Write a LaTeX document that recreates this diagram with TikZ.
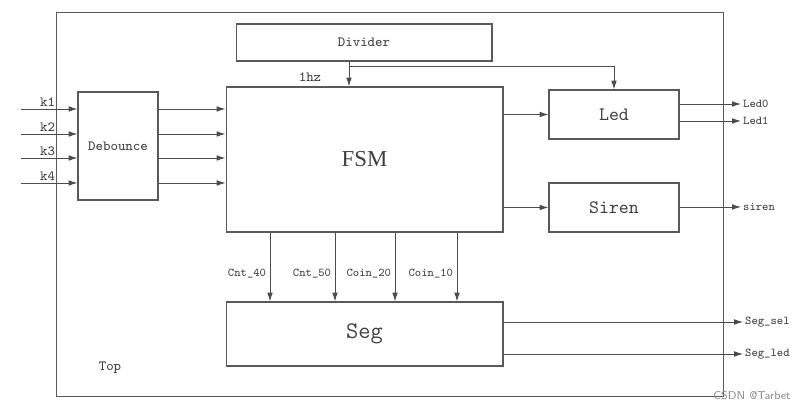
\documentclass[tikz,border=0pt]{standalone}
\usepackage{fontspec}
\setmainfont{Liberation Serif}
\usepackage{xcolor}
\usetikzlibrary{arrows.meta,positioning}

\begin{document}
\begin{tikzpicture}[x=0.02cm, y=-0.02cm,
		block/.style={rectangle, draw=black!65, line width=0.6pt, inner sep=0pt},
		arr/.style={draw=black!70, line width=0.5pt, -{Latex[length=5pt,width=3.2pt]}},
		lab/.style={font=\ttfamily\fontsize{6.8}{8}\selectfont, text=black!75, inner sep=1pt},
		smalltxt/.style={font=\ttfamily\fontsize{8}{9}\selectfont, text=black!75},
		bigtxt/.style={font=\ttfamily\fontsize{10.8}{12}\selectfont, text=black!75},
	]
		\useasboundingbox (0,0) rectangle (801,411);

		% nodes
		\node[block, minimum width=13.36cm, minimum height=7.7cm] (top) at (390,204.5) {};
		\node[smalltxt] (toplabel) at (110,368) {Top};
		\node[block, smalltxt, minimum width=5.12cm, minimum height=0.74cm] (divider) at (364,42.5) {Divider};
		\node[block, smalltxt, minimum width=1.6cm, minimum height=2.16cm] (debounce) at (118,146) {Debounce};
		\node[block, minimum width=5.54cm, minimum height=2.9cm, font=\fontsize{13}{15}\selectfont, text=black!75] (fsm) at (364.5,159.5) {FSM};
		\node[block, bigtxt, minimum width=2.6cm, minimum height=0.98cm] (led) at (614,114.5) {Led};
		\node[block, bigtxt, minimum width=2.6cm, minimum height=0.98cm] (siren) at (614,207.5) {Siren};
		\node[block, minimum width=5.54cm, minimum height=1.28cm, font=\ttfamily\fontsize{13.5}{15}\selectfont, text=black!75] (seg) at (364.5,334) {Seg};

		% coordinates
		\coordinate (hz) at (349,66);
		\coordinate (led0) at (741,104);
		\coordinate (led1) at (741,121);
		\coordinate (sirenout) at (741,207);
		\coordinate (segsel) at (743,322);
		\coordinate (segled) at (743,354);

		% inputs
		\foreach \i/\y in {1/109,2/134,3/158,4/183} {
			\coordinate (k\i) at (21,\y);
			\draw[arr] (k\i) -- (k\i -| debounce.west) node[lab, smalltxt, pos=0.47, above] {k\i};
			\draw[arr] (k\i -| debounce.east) -- (k\i -| fsm.west);
		}

		% clock
		\draw[arr] (hz |- divider.south) -- (hz |- fsm.north);
		\draw[arr] (hz) -| (led.north);
		\node[smalltxt] (hzlabel) at (310,77) {1hz};

		% fsm outputs
		\draw[arr] (fsm.east |- led.west) -- (led.west);
		\draw[arr] (fsm.east |- siren.west) -- (siren.west);
		\foreach \i/\x/\txt in {1/270/Cnt\_40,2/335/Cnt\_50,3/395/Coin\_20,4/457/Coin\_10} {
			\coordinate (c\i) at (\x,0);
			\draw[arr] (c\i |- fsm.south) -- (c\i |- seg.north) node[lab, pos=0.59, left=1pt] {\txt};
		}

		% outputs
		\draw[arr] (led0 -| led.east) -- (led0) node[lab, right] {Led0};
		\draw[arr] (led1 -| led.east) -- (led1) node[lab, right] {Led1};
		\draw[arr] (sirenout -| siren.east) -- (sirenout) node[lab, right] {siren};
		\draw[arr] (segsel -| seg.east) -- (segsel) node[lab, right] {Seg\_sel};
		\draw[arr] (segled -| seg.east) -- (segled) node[lab, right] {Seg\_led};

		% watermark
		\node[font=\sffamily\fontsize{6.5}{8}\selectfont, text=black!45] (mark) at (752,396) {CSDN @Tarbet};
	\end{tikzpicture}
\end{document}
